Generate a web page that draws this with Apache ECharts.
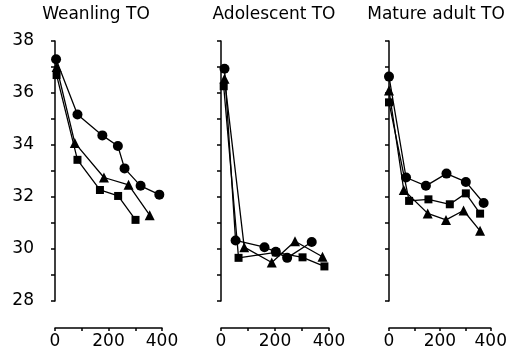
<!DOCTYPE html>
<html>
<head>
<meta charset="utf-8">
<script src="https://cdn.jsdelivr.net/npm/echarts@6/dist/echarts.min.js"></script>
<style>
html, body { margin: 0; padding: 0; background: #fff; }
#main { width: 510px; height: 356px; }
</style>
</head>
<body>
<div id="main"></div>
<script>
// 三个面板 x: 0-400, y: 28-38
var panelTitles = ['Weanling TO', 'Adolescent TO', 'Mature adult TO'];
var yTicks = [28, 30, 32, 34, 36, 38];
var xTicks = [0, 200, 400];

var weanlingCircle = [[4, 37.3], [84, 35.17], [177, 34.37], [235, 33.96], [260, 33.1], [320, 32.43], [390, 32.09]];
var weanlingTriangle = [[6, 37.0], [74, 34.08], [183, 32.75], [275, 32.47], [354, 31.3]];
var weanlingSquare = [[6, 36.69], [84, 33.43], [168, 32.27], [236, 32.04], [301, 31.12]];

var adolescentCircle = [[13, 36.93], [54, 30.33], [161, 30.07], [203, 29.89], [245, 29.66], [336, 30.27]];
var adolescentTriangle = [[13, 36.55], [86, 30.07], [188, 29.48], [274, 30.3], [376, 29.7]];
var adolescentSquare = [[10, 36.26], [65, 29.66], [203, 29.87], [302, 29.68], [383, 29.33]];

var matureCircle = [[0, 36.63], [67, 32.75], [145, 32.43], [226, 32.9], [302, 32.58], [372, 31.77]];
var matureTriangle = [[0, 36.1], [58, 32.27], [152, 31.37], [224, 31.12], [293, 31.48], [358, 30.7]];
var matureSquare = [[0, 35.64], [79, 31.85], [155, 31.91], [239, 31.72], [302, 32.14], [358, 31.36]];

var panelData = [
    [weanlingCircle, weanlingTriangle, weanlingSquare],
    [adolescentCircle, adolescentTriangle, adolescentSquare],
    [matureCircle, matureTriangle, matureSquare]
];

var gridLeft = [55, 221, 389];
var gridWidth = [107, 108, 106];
var yOffset = [12, 10, 16];
var titleCenter = [91, 269, 431];

var fontName = 'DejaVu Sans';
var symbols = ['circle', 'triangle', 'rect'];
var symbolSizes = [10, 10, 8];

var grids = [], xAxes = [], yAxes = [], titles = [], series = [];
for (var p = 0; p < 3; p++) {
    grids.push({ left: gridLeft[p], width: gridWidth[p], top: 41, height: 260 });
    titles.push({
        text: panelTitles[p],
        left: titleCenter[p],
        top: 1,
        textAlign: 'center',
        textStyle: { fontFamily: fontName, fontSize: 17, fontWeight: 'normal', color: '#000' }
    });
    xAxes.push({
        type: 'value',
        gridIndex: p,
        min: 0,
        max: 400,
        interval: 100,
        offset: 27,
        splitLine: { show: false },
        axisLine: { lineStyle: { color: '#000', width: 1.5 } },
        axisTick: { length: 3, lineStyle: { color: '#000', width: 1.5 } },
        axisLabel: {
            color: '#000',
            fontFamily: fontName,
            fontSize: 17,
            margin: 5,
            formatter: function (v) { return xTicks.indexOf(v) >= 0 ? v : ''; }
        }
    });
    yAxes.push({
        type: 'value',
        gridIndex: p,
        min: 28,
        max: 38,
        interval: 2,
        offset: yOffset[p],
        splitLine: { show: false },
        axisLine: { lineStyle: { color: '#000', width: 1.5 } },
        axisTick: { length: 4, lineStyle: { color: '#000', width: 1.5 } },
        minorTick: { show: true, splitNumber: 2, length: 4, lineStyle: { color: '#000', width: 1.5 } },
        axisLabel: {
            show: p === 0,
            color: '#000',
            fontFamily: fontName,
            fontSize: 17,
            margin: 9,
            formatter: function (v) { return yTicks.indexOf(v) >= 0 ? v : ''; }
        }
    });
    for (var s = 0; s < 3; s++) {
        series.push({
            type: 'line',
            xAxisIndex: p,
            yAxisIndex: p,
            data: panelData[p][s],
            symbol: symbols[s],
            symbolSize: symbolSizes[s],
            showAllSymbol: true,
            lineStyle: { color: '#000', width: 1.3 },
            itemStyle: { color: '#000' },
            animation: false
        });
    }
}

var chart = echarts.init(document.getElementById('main'));
chart.setOption({
    backgroundColor: '#fff',
    title: titles,
    grid: grids,
    xAxis: xAxes,
    yAxis: yAxes,
    series: series
});
</script>
</body>
</html>
